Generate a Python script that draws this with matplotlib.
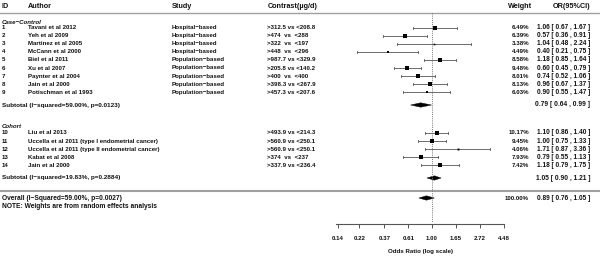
import matplotlib

matplotlib.use("Agg")
import matplotlib.pyplot as plt
import numpy as np
from matplotlib.patches import Polygon


plt.rcParams["font.family"] = ["Liberation Sans", "DejaVu Sans"]

# study level data
case_ids = ["1", "2", "3", "4", "5", "6", "7", "8", "9"]
case_authors = [
    "Tavani et al 2012",
    "Yeh et al 2009",
    "Martinez et al 2005",
    "McCann et al 2000",
    "Biel et al 2011",
    "Xu et al 2007",
    "Paynter et al 2004",
    "Jain et al 2000",
    "Potischman et al 1993",
]
case_study = ["Hospital−based"] * 4 + ["Population−based"] * 5
case_contrast = [
    ">312.5 vs <208.8",
    ">474  vs  <288",
    ">322  vs  <197",
    ">448  vs  <296",
    ">987.7 vs <329.9",
    ">205.8 vs <140.2",
    ">400  vs  <400",
    ">398.3 vs <267.9",
    ">457.3 vs <207.6",
]
case_or = [1.06, 0.57, 1.04, 0.40, 1.18, 0.60, 0.74, 0.96, 0.90]
case_lo = [0.67, 0.36, 0.48, 0.21, 0.85, 0.45, 0.52, 0.67, 0.55]
case_hi = [1.67, 0.91, 2.24, 0.75, 1.64, 0.79, 1.06, 1.37, 1.47]
case_weight = [6.49, 6.39, 3.38, 4.49, 8.58, 9.48, 8.01, 8.13, 6.03]

cohort_ids = ["10", "11", "12", "13", "14"]
cohort_authors = [
    "Liu et al 2013",
    "Uccella et al 2011 (type I endometrial cancer)",
    "Uccella et al 2011 (type II endometrial cancer)",
    "Kabat et al 2008",
    "Jain et al 2000",
]
cohort_contrast = [
    ">493.9 vs <214.3",
    ">560.9 vs <250.1",
    ">560.9 vs <250.1",
    ">374  vs  <237",
    ">337.9 vs <236.4",
]
cohort_or = [1.10, 1.00, 1.71, 0.79, 1.18]
cohort_lo = [0.86, 0.75, 0.87, 0.55, 0.79]
cohort_hi = [1.40, 1.33, 3.36, 1.13, 1.75]
cohort_weight = [10.17, 9.45, 4.06, 7.93, 7.42]

# pooled estimates
case_pooled = (0.79, 0.64, 0.99)
cohort_pooled = (1.05, 0.90, 1.21)
overall_pooled = (0.89, 0.76, 1.05)
case_het = "Subtotal (I−squared=59.00%, p=0.0123)"
cohort_het = "Subtotal (I−squared=19.83%, p=0.2884)"
overall_het = "Overall (I−Squared=59.00%, p=0.0027)"
note = "NOTE: Weights are from random effects analysis"

tick_vals = [0.14, 0.22, 0.37, 0.61, 1.00, 1.65, 2.72, 4.48]

W, H = 600, 262
FS = 4.4
HFS = 5.2
TXT = "#111111"

fig = plt.figure(figsize=(W / 100, H / 100), dpi=100)

# text layer in pixel coordinates
tx = fig.add_axes([0, 0, 1, 1])
tx.set_xlim(0, W)
tx.set_ylim(H, 0)
tx.axis("off")

# forest layer, log scale
x0, x1, ytop, ybot = 336, 504, 13, 224
ax = fig.add_axes([x0 / W, (H - ybot) / H, (x1 - x0) / W, (ybot - ytop) / H])
ax.set_xscale("log")
ax.set_xlim(np.exp(-2), np.exp(1.5))
ax.set_ylim(ybot, ytop)
ax.patch.set_alpha(0)
for side in ["top", "right", "left"]:
    ax.spines[side].set_visible(False)
ax.spines["bottom"].set_color("#555555")
ax.spines["bottom"].set_linewidth(0.8)
ax.set_yticks([])
ax.set_xticks(tick_vals)
ax.set_xticklabels([f"{v:.2f}" for v in tick_vals], fontsize=FS, fontweight="bold", color=TXT)
ax.xaxis.set_minor_locator(matplotlib.ticker.NullLocator())
ax.tick_params(axis="x", length=3, width=0.7, color="#555555", pad=6)
ax.set_xlabel("Odds Ratio (log scale)", fontsize=FS, fontweight="bold", color=TXT, labelpad=5.5)

ax.plot([1, 1], [ytop, ybot - 2], linestyle=(0, (1, 1.2)), color="#777777", lw=0.7)

# header
hy = 6
tx.text(2, hy, "ID", fontsize=HFS, fontweight="bold", va="center", color=TXT)
tx.text(28, hy, "Author", fontsize=HFS, fontweight="bold", va="center", color=TXT)
tx.text(172, hy, "Study", fontsize=HFS, fontweight="bold", va="center", color=TXT)
tx.text(268, hy, "Contrast(µg/d)", fontsize=HFS, fontweight="bold", va="center", color=TXT)
tx.text(532, hy, "Weight", fontsize=HFS, fontweight="bold", va="center", ha="right", color=TXT)
tx.text(590, hy, "OR(95%CI)", fontsize=HFS, fontweight="bold", va="center", ha="right", color=TXT)
tx.plot([0, W], [12.5, 12.5], color="#a0a0a0", lw=1.0)
tx.plot([0, W], [190.5, 190.5], color="#a0a0a0", lw=1.5)


def fmt_ci(est, lo, hi):
    return f"{est:.2f} [ {lo:.2f} , {hi:.2f} ]"


def draw_diamond(est, lo, hi, y, h=2.2):
    pts = [(lo, y), (est, y - h), (hi, y), (est, y + h)]
    ax.add_patch(Polygon(pts, closed=True, facecolor="black", edgecolor="black", lw=0.3, clip_on=False))


def draw_group(title, ty, ids, authors, studies, contrast, ors, los, his, wts, y_start, pooled, het, sub_y):
    tx.text(2, ty, title, fontsize=FS, style="italic", fontweight="bold", va="center", color=TXT)
    for i in range(len(ids)):
        y = y_start + i * 8.1
        tx.text(2, y, ids[i], fontsize=FS, fontweight="bold", va="center", color=TXT)
        tx.text(28, y, authors[i], fontsize=FS, fontweight="bold", va="center", color=TXT)
        if studies:
            tx.text(172, y, studies[i], fontsize=FS, fontweight="bold", va="center", color=TXT)
        tx.text(267, y, contrast[i], fontsize=FS, fontweight="bold", va="center", color=TXT)
        tx.text(529, y, f"{wts[i]:.2f}%", fontsize=FS, fontweight="bold", va="center", ha="right", color=TXT)
        tx.text(590, y, fmt_ci(ors[i], los[i], his[i]), fontsize=FS + 0.3, fontweight="bold", va="center", ha="right", color=TXT)
        ax.plot([los[i], his[i]], [y, y], color="#555555", lw=0.6, clip_on=False)
        ax.plot([los[i], los[i]], [y - 1, y + 1], color="#555555", lw=0.6, clip_on=False)
        ax.plot([his[i], his[i]], [y - 1, y + 1], color="#555555", lw=0.6, clip_on=False)
        ax.plot([ors[i]], [y], marker="s", color="black", markersize=0.34 * wts[i], mew=0, clip_on=False)
    tx.text(2, sub_y, het, fontsize=FS + 0.15, fontweight="bold", va="center", color=TXT)
    tx.text(590, sub_y, fmt_ci(*pooled), fontsize=FS + 0.4, fontweight="bold", va="center", ha="right", color=TXT)
    draw_diamond(*pooled, sub_y)


draw_group("Case−Control", 22, case_ids, case_authors, case_study, case_contrast,
           case_or, case_lo, case_hi, case_weight, 27.5, case_pooled, case_het, 105)
draw_group("Cohort", 126, cohort_ids, cohort_authors, None, cohort_contrast,
           cohort_or, cohort_lo, cohort_hi, cohort_weight, 133, cohort_pooled, cohort_het, 178)

# overall
tx.text(2, 198, overall_het, fontsize=FS + 0.4, fontweight="bold", va="center", color=TXT)
tx.text(2, 206, note, fontsize=FS + 0.4, fontweight="bold", va="center", color=TXT)
tx.text(529, 198, "100.00%", fontsize=FS, fontweight="bold", va="center", ha="right", color=TXT)
tx.text(590, 198, fmt_ci(*overall_pooled), fontsize=FS + 0.3, fontweight="bold", va="center", ha="right", color=TXT)
draw_diamond(*overall_pooled, 198)

fig.savefig("out.png", dpi=100)
